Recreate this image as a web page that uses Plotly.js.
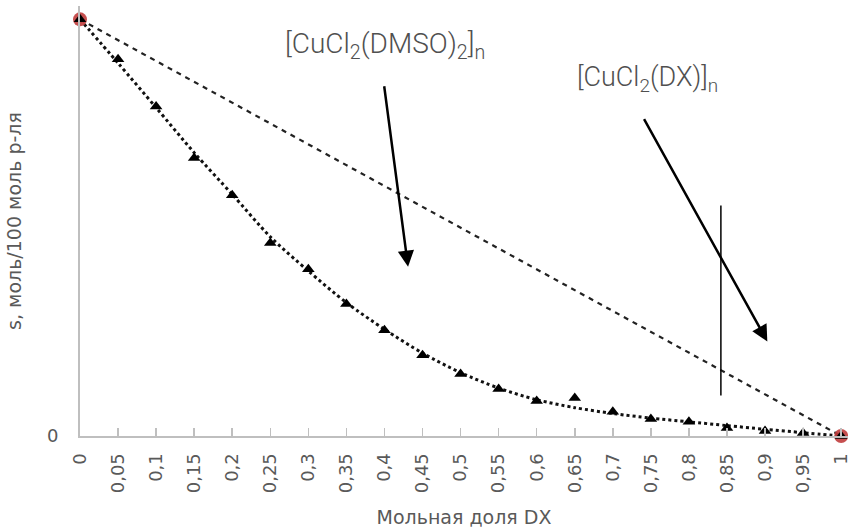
<!DOCTYPE html>
<html>
<head>
<meta charset="utf-8">
<script src="https://cdn.plot.ly/plotly-3.0.1.min.js"></script>
<style>html,body{margin:0;padding:0;background:#fff;}#chart{width:848px;height:528px;}</style>
</head>
<body>
<div id="chart"></div>
<script>
// Mole fraction of DX
const moleFraction = [0, 0.05, 0.1, 0.15, 0.2, 0.25, 0.3, 0.35, 0.4, 0.45, 0.5, 0.55, 0.6, 0.65, 0.7, 0.75, 0.8, 0.85, 0.9, 0.95, 1];
// Measured solubility (relative units)
const solubility = [1.0, 0.904, 0.791, 0.667, 0.578, 0.463, 0.400, 0.317, 0.254, 0.194, 0.149, 0.113, 0.084, 0.091, 0.058, 0.041, 0.034, 0.019, 0.012, 0.007, 0.0];
// Trend curve
const trendCurve = [1.0, 0.895, 0.788, 0.680, 0.580, 0.478, 0.396, 0.320, 0.256, 0.199, 0.152, 0.115, 0.087, 0.068, 0.054, 0.043, 0.034, 0.025, 0.016, 0.008, 0.0];
// Ideal (additive) line endpoints
const idealX = [0, 1];
const idealY = [1.0, 0.0];
// Pure component points
const pureX = [0, 1];
const pureY = [1.0, 0.0];
const xTickLabels = ["0", "0,05", "0,1", "0,15", "0,2", "0,25", "0,3", "0,35", "0,4", "0,45", "0,5", "0,55", "0,6", "0,65", "0,7", "0,75", "0,8", "0,85", "0,9", "0,95", "1"];
const labelDMSO = "[CuCl<sub>2</sub>(DMSO)<sub>2</sub>]<sub>n</sub>";
const labelDX = "[CuCl<sub>2</sub>(DX)]<sub>n</sub>";

const traces = [
  {x: idealX, y: idealY, mode: 'lines', line: {color: '#222', width: 2.2, dash: '5px,5px'}, hoverinfo: 'skip'},
  {x: moleFraction, y: trendCurve, mode: 'lines', line: {color: '#111', width: 3, dash: 'dot', shape: 'spline', smoothing: 0.8}, hoverinfo: 'skip'},
  {x: pureX, y: pureY, mode: 'markers', cliponaxis: false, marker: {symbol: 'circle', size: 14, color: 'rgba(192,60,60,0.9)'}},
  {x: moleFraction, y: solubility, mode: 'markers', cliponaxis: false, marker: {symbol: 'triangle-up', size: 11, color: '#000'}}
];

const fontTick = {family: 'DejaVu Sans, Verdana, sans-serif', size: 18, color: '#595959'};

const layout = {
  width: 848, height: 528,
  margin: {l: 80, r: 0, t: 6, b: 92},
  paper_bgcolor: '#fff', plot_bgcolor: '#fff',
  showlegend: false,
  xaxis: {
    range: [0, 1.009], tickvals: moleFraction, ticktext: xTickLabels, tickangle: -90,
    ticks: 'inside', ticklen: 8, tickcolor: '#bfbfbf', tickwidth: 1.5,
    showline: true, linecolor: '#bfbfbf', linewidth: 2, showgrid: false, zeroline: false,
    tickfont: fontTick, ticklabelstandoff: 8, ticklabeloverflow: 'allow',
    title: {text: 'Мольная доля DX', font: {family: 'DejaVu Sans, Verdana, sans-serif', size: 19, color: '#595959'}, standoff: 18}
  },
  yaxis: {
    range: [0, 1.032], tickvals: [0], ticktext: ['0'],
    ticks: '', showline: true, linecolor: '#bfbfbf', linewidth: 2, showgrid: false, zeroline: false,
    tickfont: fontTick, ticklabelstandoff: 16,
    title: {text: 's, моль/100 моль р-ля', font: {family: 'DejaVu Sans, Verdana, sans-serif', size: 19, color: '#595959'}, standoff: 20}
  },
  shapes: [
    {type: 'line', xref: 'x', yref: 'y', x0: 0.842, x1: 0.842, y0: 0.097, y1: 0.553, line: {color: '#000', width: 1.5}}
  ],
  annotations: [
    {x: 0.401, y: 0.937, xref: 'x', yref: 'y', text: labelDMSO, showarrow: false, font: {family: 'Roboto, sans-serif', size: 28, weight: 300, color: '#505050'}},
    {x: 0.746, y: 0.858, xref: 'x', yref: 'y', text: labelDX, showarrow: false, font: {family: 'Roboto, sans-serif', size: 27, weight: 300, color: '#505050'}},
    {x: 0.431, y: 0.406, ax: 0.3994, ay: 0.843, xref: 'x', yref: 'y', axref: 'x', ayref: 'y', text: '', showarrow: true, arrowhead: 2, arrowsize: 1.3, arrowwidth: 2.5, arrowcolor: '#000'},
    {x: 0.903, y: 0.227, ax: 0.740, ay: 0.764, xref: 'x', yref: 'y', axref: 'x', ayref: 'y', text: '', showarrow: true, arrowhead: 2, arrowsize: 1.3, arrowwidth: 2.5, arrowcolor: '#000'}
  ]
};

Plotly.newPlot('chart', traces, layout, {displayModeBar: false, staticPlot: true});
</script>
</body>
</html>
